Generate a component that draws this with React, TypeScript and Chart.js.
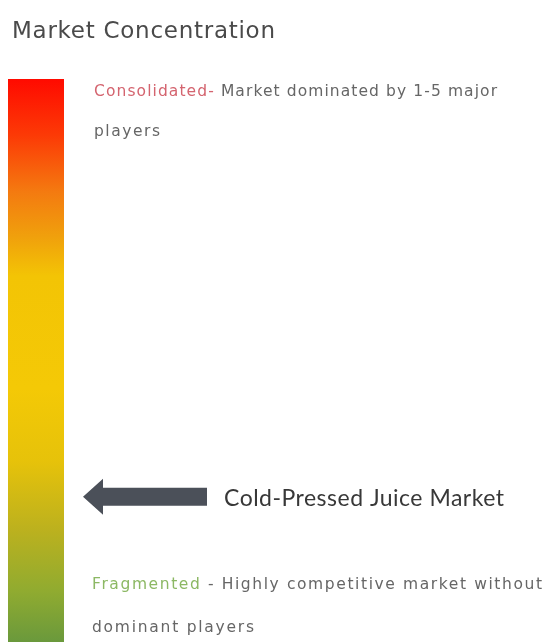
import React, { useEffect, useRef } from "react";
import { Chart, registerables } from "chart.js";

Chart.register(...registerables);

// ---- data ----
const categories = ["Market Concentration"];
const scaleRange: [number, number] = [0, 100]; // 0 = fragmented, 100 = consolidated
const marketName = "Cold-Pressed Juice Market";
const marketPosition = [25.8]; // where the market sits on the concentration scale
const titleText = "Market Concentration";
const topLabel = ["Consolidated-", " Market dominated by 1-5 major", "players"];
const bottomLabel = ["Fragmented", " - Highly competitive market without", "dominant players"];
const gradientStops: [number, string][] = [
  [0, "#ff0a00"],
  [0.1, "#fc3a06"],
  [0.2, "#f47a10"],
  [0.28, "#f0a00c"],
  [0.35, "#f3c405"],
  [0.55, "#f4c906"],
  [0.68, "#e6c20a"],
  [0.8, "#bcb11e"],
  [0.91, "#90ab30"],
  [1, "#6a993c"],
];

function drawFitted(
  ctx: CanvasRenderingContext2D,
  parts: { text: string; color: string }[],
  x: number,
  y: number,
  targetWidth: number | null
) {
  let total = 0;
  let chars = 0;
  parts.forEach((p) => {
    total += ctx.measureText(p.text).width;
    chars += p.text.length;
  });
  const ls = targetWidth ? (targetWidth - total) / Math.max(1, chars - 1) : 0;
  (ctx as any).letterSpacing = `${ls}px`;
  let cx = x;
  parts.forEach((p) => {
    ctx.fillStyle = p.color;
    ctx.fillText(p.text, cx, y);
    cx += ctx.measureText(p.text).width;
  });
  (ctx as any).letterSpacing = "0px";
}

const overlayPlugin = {
  id: "overlay",
  afterDatasetsDraw(chart: any) {
    const ctx: CanvasRenderingContext2D = chart.ctx;
    const area = chart.chartArea;
    const yScale = chart.scales.y;
    ctx.save();
    ctx.textBaseline = "alphabetic";
    ctx.textAlign = "left";

    // title
    ctx.font = '23px "DejaVu Sans"';
    drawFitted(ctx, [{ text: titleText, color: "#4a4a4a" }], 12, 38, 263);

    // consolidated
    ctx.font = '15.5px "DejaVu Sans"';
    const tx = area.right + 30;
    const topY = area.top;
    drawFitted(
      ctx,
      [
        { text: topLabel[0], color: "#d4646f" },
        { text: topLabel[1], color: "#666666" },
      ],
      tx,
      topY + 17,
      403
    );
    drawFitted(ctx, [{ text: topLabel[2], color: "#666666" }], tx, topY + 57, 66);

    // fragmented
    const botY = area.bottom;
    drawFitted(
      ctx,
      [
        { text: bottomLabel[0], color: "#8cb864" },
        { text: bottomLabel[1], color: "#666666" },
      ],
      tx - 2,
      botY - 53,
      450
    );
    drawFitted(ctx, [{ text: bottomLabel[2], color: "#666666" }], tx - 2, botY - 10, 162);

    // arrow
    const ay = yScale.getPixelForValue(marketPosition[0]);
    const tipX = area.right + 19;
    const headX = tipX + 20;
    const endX = tipX + 124;
    ctx.fillStyle = "#4b5059";
    ctx.beginPath();
    ctx.moveTo(tipX, ay);
    ctx.lineTo(headX, ay - 18);
    ctx.lineTo(headX, ay - 9);
    ctx.lineTo(endX, ay - 9);
    ctx.lineTo(endX, ay + 9);
    ctx.lineTo(headX, ay + 9);
    ctx.lineTo(headX, ay + 18);
    ctx.closePath();
    ctx.fill();

    ctx.font = '23px Lato, "Open Sans"';
    drawFitted(ctx, [{ text: marketName, color: "#383838" }], endX + 17, ay + 9, 280);
    ctx.restore();
  },
};

export default function App() {
  const ref = useRef<HTMLCanvasElement | null>(null);
  useEffect(() => {
    document.body.style.margin = "0";
    if (!ref.current) return;
    const chart = new Chart(ref.current, {
      type: "bar",
      data: {
        labels: categories,
        datasets: [
          {
            data: [scaleRange] as any,
            borderWidth: 0,
            barPercentage: 1,
            categoryPercentage: 1,
            backgroundColor: (c: any) => {
              const area = c.chart.chartArea;
              if (!area) return "#f4c906";
              const g = c.chart.ctx.createLinearGradient(0, area.top, 0, area.bottom);
              gradientStops.forEach(([o, col]) => g.addColorStop(o, col));
              return g;
            },
          },
        ],
      },
      options: {
        animation: false,
        responsive: true,
        maintainAspectRatio: false,
        layout: { padding: { left: 8, right: 480, top: 79, bottom: 0 } },
        plugins: { legend: { display: false }, tooltip: { enabled: false }, title: { display: false } },
        scales: {
          x: { display: false },
          y: { display: false, min: scaleRange[0], max: scaleRange[1] },
        },
      },
      plugins: [overlayPlugin],
    });
    return () => chart.destroy();
  }, []);
  return (
    <div style={{ width: 544, height: 642, position: "relative", background: "#fff" }}>
      <canvas ref={ref} />
    </div>
  );
}
